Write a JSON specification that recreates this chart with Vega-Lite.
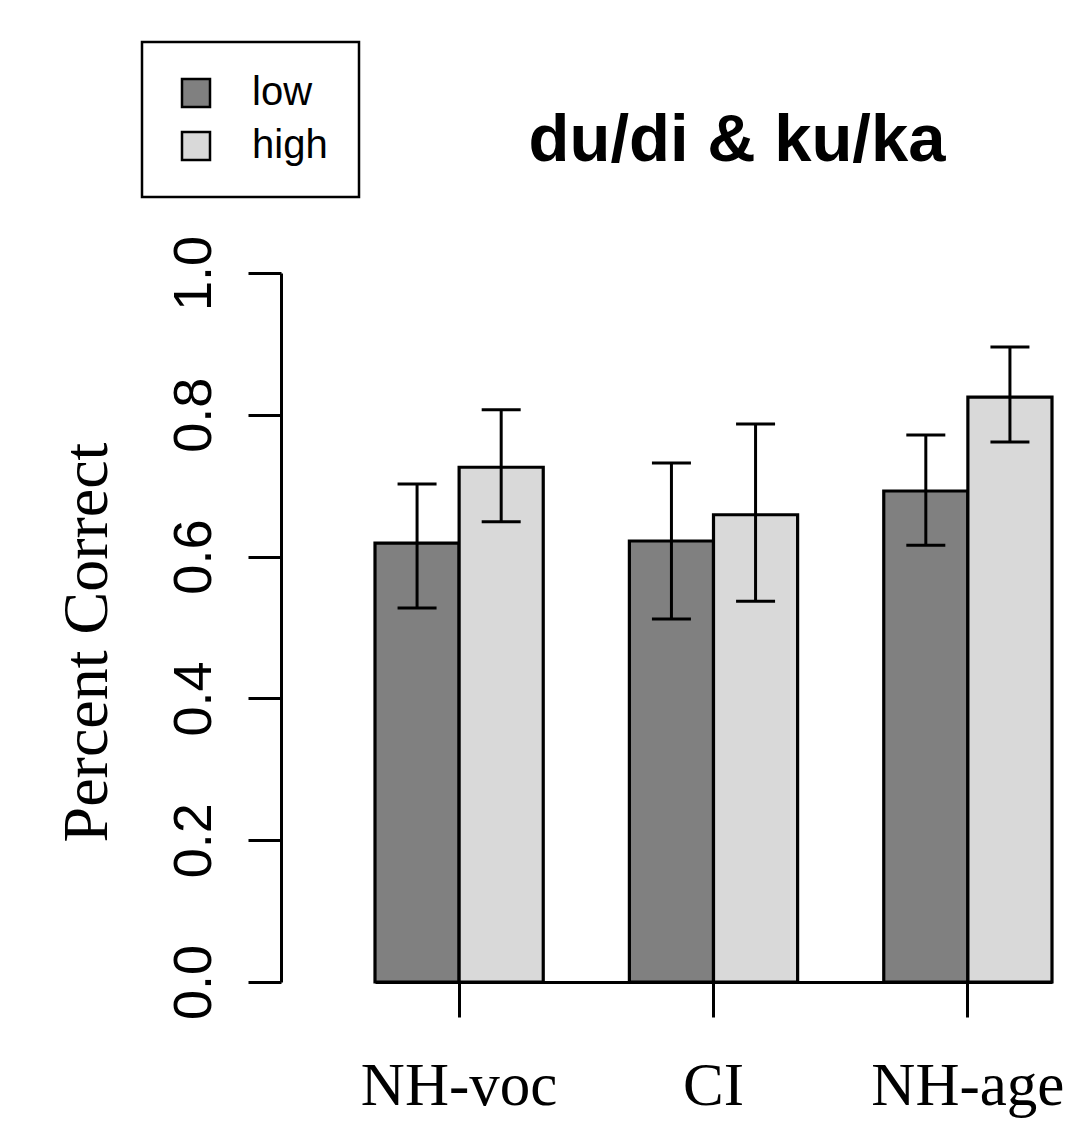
{
  "$schema": "https://vega.github.io/schema/vega-lite/v6.json",
  "width": 808,
  "height": 982,
  "autosize": {"type": "none"},
  "padding": {"left": 281, "top": 0, "right": 0, "bottom": 140},
  "background": "white",
  "title": {
    "text": "du/di & ku/ka",
    "font": "Liberation Sans",
    "fontSize": 67,
    "fontWeight": "bold",
    "color": "black",
    "anchor": "middle",
    "frame": "group",
    "baseline": "alphabetic",
    "offset": 0,
    "dx": 52,
    "dy": 228
  },
  "config": {"view": {"stroke": null}, "axis": {"grid": false}, "legend": {"strokeWidth": 2.5}},
  "data": {
    "values": [
      {"group": "NH-voc", "level": "low", "mean": 0.619, "lower": 0.5275, "upper": 0.7025},
      {"group": "NH-voc", "level": "high", "mean": 0.726, "lower": 0.649, "upper": 0.807},
      {"group": "CI", "level": "low", "mean": 0.622, "lower": 0.512, "upper": 0.732},
      {"group": "CI", "level": "high", "mean": 0.659, "lower": 0.537, "upper": 0.787},
      {"group": "NH-age", "level": "low", "mean": 0.6925, "lower": 0.616, "upper": 0.7715},
      {"group": "NH-age", "level": "high", "mean": 0.825, "lower": 0.7616, "upper": 0.8956}
    ]
  },
  "encoding": {
    "x": {
      "field": "group",
      "type": "nominal",
      "scale": {"domain": ["NH-voc", "CI", "NH-age"], "range": [94, 771], "paddingInner": 0.3386, "paddingOuter": 0},
      "axis": {
        "title": null,
        "labelAngle": 0,
        "labelAlign": "center",
        "labelBaseline": "alphabetic",
        "labelPadding": 87,
        "labelFont": "Liberation Serif",
        "labelFontSize": 61,
        "labelColor": "black",
        "labelOverlap": false,
        "labelLimit": 0,
        "tickSize": 35,
        "tickWidth": 3,
        "tickColor": "black",
        "domainColor": "black",
        "domainWidth": 3
      }
    },
    "xOffset": {
      "field": "level",
      "type": "nominal",
      "scale": {"domain": ["low", "high"], "paddingInner": 0, "paddingOuter": 0}
    }
  },
  "layer": [
    {
      "mark": {"type": "bar", "stroke": "black", "strokeWidth": 3.2, "opacity": 1},
      "encoding": {
        "y": {
          "field": "mean",
          "type": "quantitative",
          "scale": {"domain": [0, 1], "range": [982, 273], "nice": false, "zero": true},
          "axis": {
            "title": "Percent Correct",
            "titleFont": "Liberation Serif",
            "titleFontSize": 64,
            "titleFontWeight": "normal",
            "titleColor": "black",
            "titleAngle": 270,
            "titleX": -175,
            "titleY": 642,
            "titleAlign": "center",
            "titleBaseline": "alphabetic",
            "values": [0, 0.2, 0.4, 0.6, 0.8, 1],
            "format": ".1f",
            "labelAngle": 270,
            "labelAlign": "center",
            "labelBaseline": "alphabetic",
            "labelPadding": 38,
            "labelFont": "Liberation Sans",
            "labelFontSize": 54,
            "labelColor": "black",
            "labelOverlap": false,
            "labelFlush": false,
            "tickSize": 33,
            "tickWidth": 3,
            "tickColor": "black",
            "domainColor": "black",
            "domainWidth": 3
          }
        },
        "color": {
          "field": "level",
          "type": "nominal",
          "scale": {"domain": ["low", "high"], "range": ["#808080", "#D9D9D9"]},
          "legend": {
            "title": null,
            "orient": "none",
            "legendX": -139,
            "legendY": 42,
            "direction": "vertical",
            "symbolType": "square",
            "symbolSize": 784,
            "symbolStrokeColor": "black",
            "symbolStrokeWidth": 2.5,
            "symbolOffset": 3,
            "labelFont": "Liberation Sans",
            "labelFontSize": 40,
            "labelColor": "black",
            "labelOffset": 36,
            "rowPadding": 13,
            "padding": 31,
            "strokeColor": "black",
            "fillColor": "white",
            "encode": {"legend": {"enter": {"strokeWidth": {"value": 2.5}}, "update": {"strokeWidth": {"value": 2.5}}}}
          }
        }
      }
    },
    {
      "mark": {"type": "rule", "strokeWidth": 3, "color": "black", "opacity": 1},
      "encoding": {
        "y": {"field": "lower", "type": "quantitative", "title": "Percent Correct"},
        "y2": {"field": "upper"}
      }
    },
    {
      "mark": {"type": "tick", "thickness": 3, "size": 39, "color": "black", "opacity": 1, "orient": "horizontal"},
      "encoding": {
        "y": {"field": "upper", "type": "quantitative", "title": "Percent Correct"}
      }
    },
    {
      "mark": {"type": "tick", "thickness": 3, "size": 39, "color": "black", "opacity": 1, "orient": "horizontal"},
      "encoding": {
        "y": {"field": "lower", "type": "quantitative", "title": "Percent Correct"}
      }
    }
  ]
}
